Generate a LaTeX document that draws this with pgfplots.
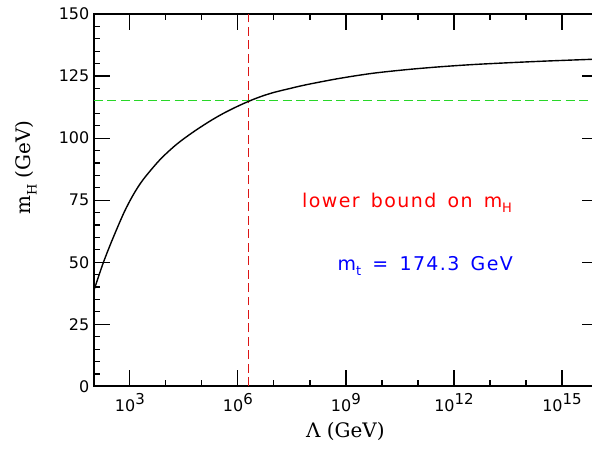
\documentclass[border=0pt]{standalone}
\usepackage{fontspec}
\usepackage{pgfplots}
\pgfplotsset{compat=1.18}
\setmainfont{DejaVu Sans}
\newfontfamily\lblfont{DejaVu Serif}
\newfontfamily\txtfont[LetterSpace=7.5,WordSpace=1.5]{DejaVu Sans}

\definecolor{vred}{RGB}{220,20,20}
\definecolor{hgreen}{RGB}{40,215,40}

% 10^k tick label, exponent almost full size
\newcommand\tp[1]{10\raisebox{0.4em}{\fontsize{15}{15}\selectfont #1}}
\newcommand\sub[1]{\raisebox{-0.3em}{\fontsize{13}{13}\selectfont #1}}

\begin{document}
\begin{tikzpicture}
\begin{axis}[
  scale only axis,
  width=505pt, height=373pt,
  xmode=log,
  xmin=1e2, xmax=1e16,
  ymin=0, ymax=150,
  xtick={1e3,1e6,1e9,1e12,1e15},
  xticklabels={\tp{3},\tp{6},\tp{9},\tp{12},\tp{15}},
  minor xtick={1e2,1e4,1e5,1e7,1e8,1e10,1e11,1e13,1e14,1e16},
  ytick={0,25,50,75,100,125,150},
  minor ytick={5,10,15,20,30,35,40,45,55,60,65,70,80,85,90,95,105,110,115,120,130,135,140,145},
  tick align=inside,
  major tick length=16pt,
  minor tick length=6pt,
  every tick/.style={black, line width=1.2pt},
  axis line style={line width=1.8pt},
  /pgf/number format/assume math mode=true,
  tick label style={font=\fontsize{16}{17}\selectfont},
  xticklabel style={yshift=-4pt},
  yticklabel style={xshift=-1pt},
  clip=false,
]
\coordinate (sw) at (rel axis cs:0,0);
\coordinate (ne) at (rel axis cs:1,1);
% vertical and horizontal reference lines
\addplot[vred, line width=1pt, dash pattern=on 9pt off 4.5pt] coordinates {(2.03e6,0) (2.03e6,150)};
\addplot[hgreen, line width=0.9pt, dash pattern=on 9pt off 4.5pt] coordinates {(1e2,115) (1e16,115)};
% lower bound curve
\addplot[black, line width=1.4pt, smooth] coordinates {
(1e2,38.5) (177.8,49.3) (316.2,58.6) (682.3,69.9) (1259,77.3) (2344,83.3)
(6761,91.2) (19498,97.4) (56885,102.4) (165959,106.8) (389045,109.9) (912011,112.6)
(2.138e6,115.0) (4.467e6,116.8) (1e7,118.4) (2.818e7,120.0) (7.94e7,121.5)
(6.31e8,124.0) (5.50e9,126.1)
(5.01e10,127.6) (3.89e11,128.7) (3.16e12,129.6) (2.75e13,130.3) (3.16e14,131.0)
(5.62e15,131.7) (1e16,131.85)
};
\node[font=\txtfont\fontsize{19}{20}\selectfont, text=red] at (axis cs:5e10,74)
  {lower bound on m\sub{H}};
\node[font=\txtfont\fontsize{19}{20}\selectfont, text=blue] at (axis cs:1.6e11,48.5)
  {m\sub{t} = 174.3 GeV};
\end{axis}
\node[font=\lblfont\fontsize{20}{22}\selectfont] at ([xshift=252pt,yshift=-45pt]sw) {Λ (GeV)};
\node[rotate=90, font=\lblfont\fontsize{20}{22}\selectfont] at ([xshift=-68pt,yshift=219pt]sw)
  {m\sub{H} (GeV)};
\pgfresetboundingbox
\path[use as bounding box] ([xshift=-94pt,yshift=-63pt]sw) rectangle ([xshift=-6pt,yshift=14pt]ne);
\end{tikzpicture}
\end{document}
